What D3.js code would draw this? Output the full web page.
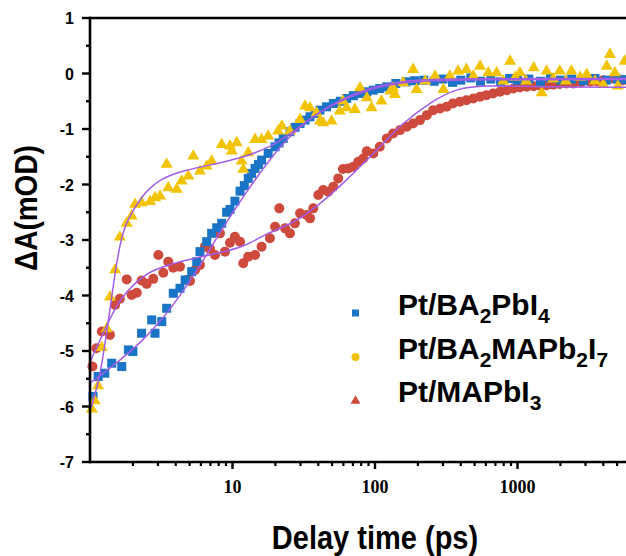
<!DOCTYPE html>
<html>
<head>
<meta charset="utf-8">
<script src="https://cdn.jsdelivr.net/npm/d3@7"></script>
<style>
  body { margin: 0; background: #fff; }
  svg { display: block; }
</style>
</head>
<body>
<div id="chart"></div>
<script>
// size of the picture
const W = 626, H = 556;

// Pt/BA2PbI4 - blue squares [time ps, dA mOD]
const blueData = [
  [1.05,-5.82],[1.14,-5.46],[1.27,-5.40],[1.42,-5.22],[1.67,-5.28],[1.86,-4.98],[2.0,-5.01],
  [2.30,-4.68],[2.71,-4.44],[2.86,-4.68],[3.19,-4.47],[3.45,-4.23],[3.84,-3.96],[4.28,-3.87],
  [4.65,-3.72],[5.17,-3.57],[5.61,-3.39],[5.91,-3.21],[6.59,-3.03],[7.14,-2.88],[7.75,-2.78],
  [8.40,-2.70],[9.10,-2.50],[9.60,-2.45],[10.4,-2.30],[11.3,-2.12],[12.1,-2.02],[12.9,-1.89],
  [13.6,-1.80],[14.4,-1.71],[15.2,-1.64],[16.0,-1.56],[17.8,-1.44],[19.9,-1.32],[21.2,-1.25],
  [22.7,-1.17],[25.3,-1.05],[27.5,-0.97],[29.8,-0.90],[32.3,-0.84],[35.0,-0.78],[38.0,-0.72],
  [41.1,-0.66],[45.7,-0.60],[51.0,-0.54],[57.0,-0.50],[63.3,-0.45],[70.5,-0.40],[78.5,-0.36],
  [87.6,-0.33],[97.3,-0.30],[108,-0.27],[121,-0.24],
  [140,-0.18],[165,-0.15],[190,-0.13],[220,-0.12],[260,-0.14],[300,-0.10],[350,-0.16],
  [400,-0.12],[470,-0.08],[550,-0.14],[650,-0.10],[760,-0.15],[880,-0.09],[1000,-0.12],
  [1200,-0.10],[1450,-0.14],[1700,-0.08],[2000,-0.12],[2400,-0.10],[2900,-0.13],[3500,-0.09],
  [4200,-0.12],[5000,-0.10],[5800,-0.11]
];

// Pt/BA2MAPb2I7 - drawn as yellow triangles
const yellowData = [
  [1.03,-6.03],[1.08,-5.88],[1.14,-5.61],[1.21,-4.92],[1.31,-4.58],[1.38,-4.01],[1.50,-3.52],
  [1.62,-2.93],[1.81,-2.68],[1.96,-2.55],[2.07,-2.34],[2.30,-2.31],[2.64,-2.29],[2.86,-2.22],
  [3.10,-2.19],[3.45,-1.62],[3.54,-2.04],[4.06,-2.07],[4.40,-1.92],[4.90,-1.83],[5.31,-1.47],
  [5.91,-1.74],[6.59,-1.65],[7.14,-1.56],[8.40,-1.26],[9.60,-1.29],[9.88,-1.38],[10.7,-1.23],
  [11.6,-1.56],[11.9,-1.71],[12.9,-1.41],[14.4,-1.17],[16.0,-1.17],[17.8,-1.11],[20.9,-1.02],
  [22.2,-0.93],[25.3,-1.02],[29.8,-0.81],[32.3,-0.57],[35.0,-0.60],[38.9,-0.69],[41.1,-0.84],
  [43.3,-0.87],[49.6,-0.84],[56.5,-0.66],[59.6,-0.48],[63.3,-0.60],[72.2,-0.63],[78.5,-0.24],
  [87.6,-0.42],[94.5,-0.60],[111,-0.48],[128,-0.30],[134,-0.24],[138,-0.36],[158,-0.15],
  [185,0.09],[196,-0.27],[225,-0.12],[264,-0.03],[302,-0.27],[335,-0.03],[383,0.06],
  [438,0.09],[490,-0.03],[546,0.15],[624,0.03],[713,0.03],[795,-0.12],[887,0.24],[965,-0.05],
  [1040,0.03],[1150,-0.12],[1300,0.12],[1480,-0.33],[1600,0.06],[1780,-0.08],[1980,0.06],
  [2180,-0.12],[2390,0.06],[2750,-0.05],[3060,0.0],[3500,-0.12],[4000,-0.18],[4230,0.15],
  [4450,0.36],[4820,0.03],[5060,-0.21],[5650,0.24]
];

// Pt/MAPbI3 - drawn as red circles
const redData = [
  [1.04,-5.28],[1.11,-4.95],[1.21,-4.65],[1.38,-4.71],[1.50,-4.17],[1.62,-4.06],[1.81,-3.71],
  [1.96,-3.99],[2.13,-3.95],[2.30,-3.73],[2.50,-3.79],[2.78,-3.70],[3.02,-3.27],[3.27,-3.59],
  [3.54,-3.39],[3.84,-3.50],[4.28,-3.48],[4.77,-3.72],[5.03,-3.74],[5.46,-3.54],[5.91,-3.45],
  [6.41,-3.12],[6.95,-3.16],[7.53,-3.27],[8.17,-2.88],[8.86,-3.21],[9.60,-3.05],[10.4,-2.94],
  [11.3,-3.03],[11.9,-3.42],[12.9,-3.30],[14.4,-3.27],[16.0,-3.12],[18.3,-2.97],[19.9,-2.76],
  [21.3,-2.43],[23.4,-2.79],[25.3,-2.88],[27.4,-2.70],[29.8,-2.52],[33.2,-2.55],[35.0,-2.61],
  [36.9,-2.43],[40.0,-2.19],[43.3,-2.10],[47.0,-2.13],[51.0,-2.04],[55.2,-1.89],[59.6,-1.72],
  [64.9,-1.71],[70.5,-1.68],[76.3,-1.59],[82.7,-1.53],[87.6,-1.40],[97.3,-1.44],[108,-1.32],
  [121,-1.17],[134,-1.08],[150,-1.02],[167,-0.96],[185,-0.90],[207,-0.84],[231,-0.75],
  [256,-0.66],[286,-0.63],[318,-0.60],[352,-0.54],[394,-0.51],[438,-0.48],[490,-0.45],
  [546,-0.42],[605,-0.39],[674,-0.36],[753,-0.33],[840,-0.30],[934,-0.27],[1040,-0.25],
  [1160,-0.24],[1300,-0.23],[1450,-0.22],[1600,-0.21],[1780,-0.20],[1980,-0.19],[2200,-0.18],
  [2470,-0.18],[2800,-0.16],[3240,-0.15],[3600,-0.14],[4000,-0.12],[4680,-0.09],[5500,-0.12]
];

// fitted curves
const blueFit = [
  [1.02,-5.56],[1.05,-5.54],[1.57,-5.20],[2.24,-4.86],[3.10,-4.48],[4.28,-4.01],[5.91,-3.47],
  [8.17,-2.86],[11.7,-2.24],[22.6,-1.20],[41,-0.66],[78.5,-0.33],[150,-0.15],[335,-0.11],
  [6000,-0.11],[9000,-0.11]
];
const yellowFit = [
  [1.02,-6.02],[1.03,-5.97],[1.14,-5.58],[1.21,-5.25],[1.30,-4.71],[1.38,-4.26],[1.50,-3.58],
  [1.62,-3.09],[1.76,-2.73],[2.07,-2.41],[2.43,-2.14],[3.19,-1.88],[4.65,-1.74],[7.92,-1.62],
  [12.2,-1.50],[18.8,-1.32],[26.7,-1.05],[39,-0.72],[56.5,-0.48],[87.6,-0.27],[150,-0.13],
  [335,-0.09],[6000,-0.09],[9000,-0.09]
];
const redFit = [
  [1.005,-5.22],[1.01,-5.16],[1.21,-4.74],[1.58,-4.08],[2.18,-3.72],[2.71,-3.54],[4.65,-3.36],
  [7.92,-3.24],[12.2,-3.12],[17.3,-2.88],[26.7,-2.70],[39.0,-2.40],[56.5,-2.04],[87.6,-1.56],
  [121,-1.20],[150,-0.93],[256,-0.48],[375,-0.27],[576,-0.21],[1302,-0.24],[6000,-0.25],[9000,-0.25]
];

// axis ticks
const xMajor = [10, 100, 1000];
const xMinor = [2,3,4,5,6,7,8,9,20,30,40,50,60,70,80,90,200,300,400,500,600,700,800,900,2000,3000,4000,5000];
const yMajor = [1, 0, -1, -2, -3, -4, -5, -6, -7];
const yMinor = [0.5, -0.5, -1.5, -2.5, -3.5, -4.5, -5.5, -6.5];

// legend: label pieces, second value = subscript
const legendLabels = [
  [["Pt/BA",0],["2",1],["PbI",0],["4",1]],
  [["Pt/BA",0],["2",1],["MAPb",0],["2",1],["I",0],["7",1]],
  [["Pt/MAPbI",0],["3",1]]
];
const legendShapes = ["square", "circle", "triangle"];

const blue = "#1b75c6", yellow = "#f2c300", red = "#cd4a3c", fitColor = "#a25ce8";

const svg = d3.select("#chart").append("svg")
  .attr("width", W).attr("height", H);

const x = d3.scaleLog().domain([1, 10000]).range([90, 660]);
const y = d3.scaleLinear().domain([-7, 1]).range([462, 18]);

// markers
svg.append("g").selectAll("circle")
  .data(redData).join("circle")
  .attr("cx", d => x(d[0])).attr("cy", d => y(d[1]))
  .attr("r", 5).attr("fill", red);

svg.append("g").selectAll("rect")
  .data(blueData).join("rect")
  .attr("x", d => x(d[0]) - 4.5).attr("y", d => y(d[1]) - 4.5)
  .attr("width", 9).attr("height", 9).attr("fill", blue);

const tri = d3.symbol().type(d3.symbolTriangle).size(62);
svg.append("g").selectAll("path")
  .data(yellowData).join("path")
  .attr("transform", d => `translate(${x(d[0])},${y(d[1]) + 1})`)
  .attr("d", tri).attr("fill", yellow);

// fits
const line = d3.line()
  .x(d => x(d[0])).y(d => y(d[1]))
  .curve(d3.curveBasis);
[blueFit, yellowFit, redFit].forEach(f => {
  svg.append("path").datum(f)
    .attr("d", line)
    .attr("fill", "none")
    .attr("stroke", fitColor)
    .attr("stroke-width", 1.5);
});

// axes
const axisG = svg.append("g").attr("stroke", "#000");
axisG.append("line")
  .attr("x1", x(1)).attr("x2", x(1)).attr("y1", y(1) - 1.2).attr("y2", y(-7) + 1.2)
  .attr("stroke-width", 2.6);
axisG.append("line")
  .attr("x1", x(1)).attr("x2", x(10000)).attr("y1", y(-7)).attr("y2", y(-7))
  .attr("stroke-width", 2.6);
axisG.append("line")
  .attr("x1", x(1)).attr("x2", x(10000)).attr("y1", y(1)).attr("y2", y(1))
  .attr("stroke-width", 2.6);

axisG.selectAll(".ymaj").data(yMajor).join("line")
  .attr("x1", x(1) - 8).attr("x2", x(1)).attr("y1", d => y(d)).attr("y2", d => y(d))
  .attr("stroke-width", 2.4);
axisG.selectAll(".ymin").data(yMinor).join("line")
  .attr("x1", x(1) - 4).attr("x2", x(1)).attr("y1", d => y(d)).attr("y2", d => y(d))
  .attr("stroke-width", 2.4);
axisG.selectAll(".xmaj").data(xMajor).join("line")
  .attr("x1", d => x(d)).attr("x2", d => x(d)).attr("y1", y(-7)).attr("y2", y(-7) + 7)
  .attr("stroke-width", 2.4);
axisG.selectAll(".xmin").data(xMinor).join("line")
  .attr("x1", d => x(d)).attr("x2", d => x(d)).attr("y1", y(-7)).attr("y2", y(-7) + 4)
  .attr("stroke-width", 2.2);

// tick labels
svg.append("g").selectAll("text")
  .data(yMajor).join("text")
  .attr("x", 74).attr("y", d => y(d) + 6)
  .attr("text-anchor", "end")
  .style("font", "bold 16px 'Liberation Sans', Arial, sans-serif")
  .text(d => d);

svg.append("g").selectAll("text")
  .data(xMajor).join("text")
  .attr("x", d => x(d)).attr("y", 493)
  .attr("text-anchor", "middle")
  .style("font", "bold 18px 'Liberation Serif', 'Times New Roman', serif")
  .text(d => d);

// axis titles
svg.append("text")
  .attr("transform", "translate(375,549) scale(1,1.15)")
  .attr("text-anchor", "middle")
  .style("font", "bold 29px 'Liberation Sans', Arial, sans-serif")
  .text("Delay time (ps)");

svg.append("text")
  .attr("transform", "translate(37,208) rotate(-90) scale(1,1.1)")
  .attr("text-anchor", "middle")
  .style("font", "bold 28px 'Liberation Sans', Arial, sans-serif")
  .text("ΔA(mOD)");

// legend
const legendColors = [blue, yellow, red];
const rowY = [313, 357, 400];
legendLabels.forEach((parts, i) => {
  const cy = rowY[i];
  if (legendShapes[i] === "square") {
    svg.append("rect").attr("x", 352).attr("y", cy - 3.5).attr("width", 7).attr("height", 7)
      .attr("fill", legendColors[i]);
  } else if (legendShapes[i] === "circle") {
    svg.append("circle").attr("cx", 355.5).attr("cy", cy).attr("r", 4).attr("fill", legendColors[i]);
  } else {
    svg.append("path").attr("transform", `translate(355.5,${cy + 1})`)
      .attr("d", d3.symbol().type(d3.symbolTriangle).size(42)).attr("fill", legendColors[i]);
  }
  const t = svg.append("text")
    .attr("x", 398).attr("y", cy + 10)
    .style("font", "bold 30px 'Liberation Sans', Arial, sans-serif");
  parts.forEach(p => {
    t.append("tspan")
      .attr("dy", p[1] ? 8 : (t.selectAll("tspan").size() > 0 ? -8 : 0))
      .style("font-size", p[1] ? "21px" : "30px")
      .text(p[0]);
  });
});
</script>
</body>
</html>
